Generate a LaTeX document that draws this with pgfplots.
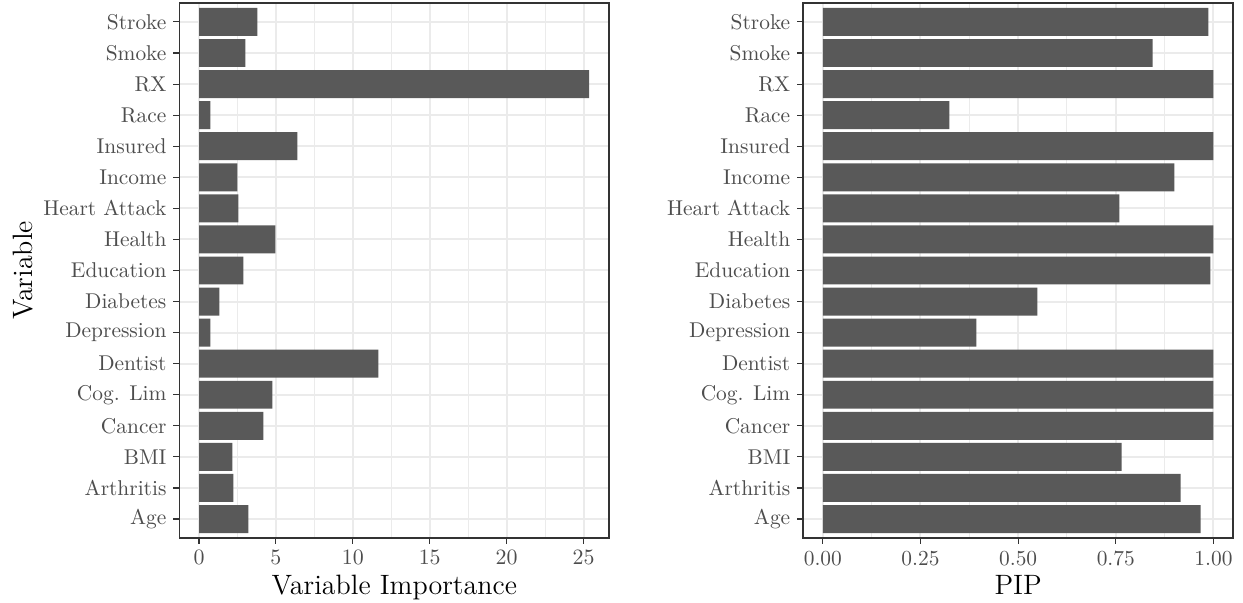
\documentclass[border=0pt]{standalone}
\usepackage{pgfplots}
\pgfplotsset{compat=1.18}
\definecolor{barfill}{HTML}{595959}
\definecolor{gridc}{HTML}{EBEBEB}
\definecolor{framec}{HTML}{333333}
\definecolor{tickc}{HTML}{4D4D4D}
\pgfplotsset{common/.style={
  scale only axis, width=214.85pt, height=267.2pt,
  xbar, bar width=0.9, bar shift=0pt,
  ymin=-0.6, ymax=16.6,
  ytick={0,...,16},
  yticklabels={Age,Arthritis,BMI,Cancer,Cog. Lim,Dentist,Depression,Diabetes,Education,Health,Heart Attack,Income,Insured,Race,RX,Smoke,Stroke},
  tick align=outside, tick pos=left,
  major tick length=3pt, minor tick length=0pt,
  every tick/.style={framec, line width=0.55pt},
  axis line style={framec, line width=0.9pt},
  xmajorgrids, xminorgrids, ymajorgrids,
  major grid style={gridc, line width=1pt},
  minor grid style={gridc, line width=0.5pt},
  tick label style={font=\fontsize{10.7}{12}\selectfont, text=tickc},
  label style={font=\fontsize{14}{16}\selectfont, text=black},
  xlabel style={at={(axis description cs:0.5,-0.1072)}, anchor=base},
  ylabel style={at={(axis description cs:-0.3426,0.5)}, anchor=base},
}}
\begin{document}
\begin{tikzpicture}
\path[use as bounding box] (0,0) rectangle (621.5pt,301.5pt);
\begin{axis}[common, at={(89.75pt,32.65pt)}, anchor=south west,
  xmin=-1.27, xmax=26.67,
  xtick={0,5,10,15,20,25}, minor xtick={2.5,7.5,12.5,17.5,22.5},
  xlabel={Variable Importance}, ylabel={Variable}]
\addplot[fill=barfill, draw=none] coordinates {(3.21,0) (2.23,1) (2.17,2) (4.18,3) (4.77,4) (11.66,5) (0.74,6) (1.32,7) (2.88,8) (4.96,9) (2.56,10) (2.49,11) (6.39,12) (0.74,13) (25.37,14) (3.01,15) (3.79,16)};
\end{axis}
\begin{axis}[common, at={(401.65pt,32.65pt)}, anchor=south west,
  xmin=-0.05, xmax=1.05,
  xtick={0,0.25,0.5,0.75,1}, xticklabels={0.00,0.25,0.50,0.75,1.00},
  minor xtick={0.125,0.375,0.625,0.875},
  xlabel={PIP}]
\addplot[fill=barfill, draw=none] coordinates {(0.967,0) (0.916,1) (0.765,2) (1,3) (1,4) (1,5) (0.393,6) (0.549,7) (0.992,8) (1,9) (0.759,10) (0.900,11) (1,12) (0.324,13) (1,14) (0.844,15) (0.987,16)};
\end{axis}
\end{tikzpicture}
\end{document}
